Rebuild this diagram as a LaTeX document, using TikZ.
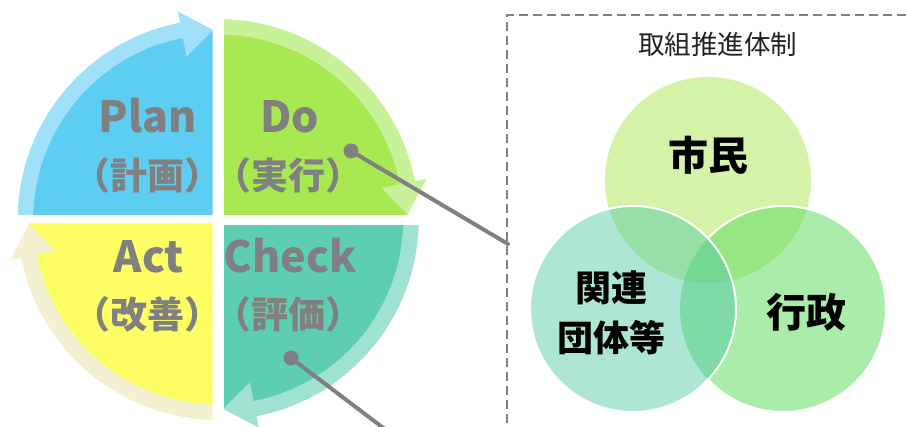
\documentclass[tikz,border=0pt]{standalone}
\usepackage{fontspec}
\newfontfamily\jpfont{Noto Sans CJK JP}
\definecolor{planC}{HTML}{5ECDF2}
\definecolor{planB}{HTML}{A0E0F8}
\definecolor{doC}{HTML}{A8E850}
\definecolor{doB}{HTML}{C8F298}
\definecolor{actC}{HTML}{FFFF66}
\definecolor{actB}{HTML}{F4F0D2}
\definecolor{chkC}{HTML}{5ECEB2}
\definecolor{chkB}{HTML}{A0E2D0}
\definecolor{txtG}{HTML}{808080}
\definecolor{connG}{HTML}{808080}
\definecolor{dashG}{HTML}{808080}
\definecolor{shiminC}{HTML}{D4F2A8}
\definecolor{gyoseiC}{HTML}{68DD68}
\definecolor{kanrenC}{HTML}{4BC8A4}
\definecolor{titleC}{HTML}{222222}
\newcommand\pdcaband[2]{%
  \fill[#2] (#1:200.5) arc[start angle=#1, end angle=#1-79, radius=200.5]
    -- (#1-79:212) -- (#1-88.5:189.5) -- (#1-79:166) -- (#1-79:185)
    arc[start angle=#1-79, end angle=#1, radius=185] -- cycle;}
\tikzset{
  pdcalat/.style={font=\jpfont\bfseries\fontsize{43}{43}\selectfont, text=txtG, inner sep=0pt, anchor=base},
  pdcajp/.style={font=\jpfont\bfseries\fontsize{37}{37}\selectfont, text=txtG, inner sep=0pt},
  venntxt/.style={font=\jpfont\bfseries\fontsize{40}{40}\selectfont, text=black, inner sep=0pt, align=center},
  venntxtsm/.style={font=\jpfont\bfseries\fontsize{36}{50}\selectfont, text=black, inner sep=0pt, align=center},
  conn/.style={draw=connG, line width=4, line cap=round},
  dotc/.style={circle, fill=connG, inner sep=0pt, minimum size=15},
}
\begin{document}
\begin{tikzpicture}[x=1pt,y=1pt]
\useasboundingbox (0,0) rectangle (906,427);
% ---------- PDCA cycle ----------
\begin{scope}[shift={(218.2,207.5)}]
  \begin{scope}
    \clip (-300,4.5) rectangle (-5.7,300);
    \fill[planC] (0,0) circle (189);
    \pdcaband{180}{planB}
  \end{scope}
  \begin{scope}
    \clip (5.8,4.5) rectangle (300,300);
    \fill[doC] (0,0) circle (189);
    \pdcaband{90}{doB}
  \end{scope}
  \begin{scope}
    \clip (5.8,-300) rectangle (300,-6.5);
    \fill[chkC] (0,0) circle (189);
    \pdcaband{0}{chkB}
  \end{scope}
  \begin{scope}
    \clip (-300,-300) rectangle (-5.7,-3.8);
    \fill[actC] (0,0) circle (189);
    \pdcaband{-90}{actB}
  \end{scope}
\end{scope}
\node[pdcalat] (plan) at (148,294) {Plan};
\node[pdcajp] (planj) at (147.5,252) {（計画）};
\node[pdcalat] (do) at (290,294) {Do};
\node[pdcajp] (doj) at (288.5,252) {（実行）};
\node[pdcalat] (act) at (149,154) {Act};
\node[pdcajp] (actj) at (147.5,113) {（改善）};
\node[pdcalat] (check) at (290,154) {Check};
\node[pdcajp] (checkj) at (288.5,113) {（評価）};
% ---------- dashed frame ----------
\draw[dashG, line width=2.2, dash pattern=on 9 off 5] (507,-10) -- (507,412) -- (930,412);
% ---------- Venn ----------
\fill[shiminC] (708,247) circle (103);
\fill[gyoseiC, fill opacity=0.56] (783,118) circle (103);
\draw[white, line width=2] (783,118) ++(136.7:103) arc[start angle=136.7, end angle=-136.7, radius=103];
\fill[kanrenC, fill opacity=0.45] (633,118) circle (103);
\draw[white, line width=2] (633,118) circle (103);
\node[font=\jpfont\fontsize{26.5}{26.5}\selectfont, text=titleC, inner sep=0pt] (title) at (717.5,383) {取組推進体制};
\node[venntxt] (shimin) at (708,272) {市民};
\node[venntxt] (gyosei) at (806,115) {行政};
\node[venntxtsm] (kanren) at (611,114) {関連\\団体等};
% ---------- connectors ----------
\node[dotc] (d1) at (351,276) {};
\coordinate (e1) at (508,183);
\draw[conn] (d1.center) -- (e1);
\node[dotc] (d2) at (291,69) {};
\coordinate (e2) at (400.5,-14);
\draw[conn] (d2.center) -- (e2);
\end{tikzpicture}
\end{document}
